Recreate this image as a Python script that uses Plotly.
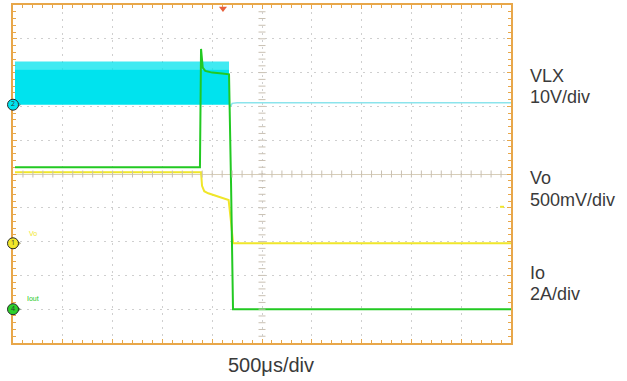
import numpy as np
import plotly.graph_objects as go

# ---- time base: 500 us/div, 10 divisions -> 0..5 ms ----
T_RANGE = [0.0, 5.0]

# ---- VLX (10 V/div), switching band then off ----
vlx_scale, vlx_offset = 10.0, 2.05
vlx_band_t = [0.02, 2.169]          # switching interval (ms)
vlx_band_low = 0.0                  # V
vlx_band_dense = 10.5               # V (solid part of band)
vlx_band_high = 12.8                # V (ragged top of band)
vlx_after_t = [2.169, 2.189, 2.20, 2.25, 5.0]
vlx_after_v = [0.0, -0.3, 0.4, 0.6, 0.6]

# ---- Vo (500 mV/div) ----
vo_scale, vo_offset = 0.5, -2.05
vo_t = [0.02, 1.888, 1.898, 1.92, 1.96, 2.05, 2.165, 2.19, 2.21, 5.0]
vo_v = [1.05, 1.05, 0.85, 0.77, 0.74, 0.70, 0.64, 0.30, 0.0, 0.0]
vo_marker_t = [4.89, 4.93]
vo_marker_v = [0.54, 0.54]

# ---- Io (2 A/div) ----
io_scale, io_offset = 2.0, -4.0
io_t = [0.02, 1.877, 1.888, 1.905, 1.93, 2.0, 2.1, 2.169, 2.189, 2.209, 5.0]
io_a = [8.4, 8.4, 15.4, 14.3, 14.1, 14.0, 13.95, 13.9, 7.5, 0.0, 0.0]

trigger_t = 2.108

right_labels = ["VLX", "10V/div", "Vo", "500mV/div", "Io", "2A/div"]
time_label = "500μs/div"

CYAN = "#00E3EE"
CYAN_L = "rgba(0,227,238,0.75)"
CYAN_LINE = "#8BE4EC"
GREEN = "#22C922"
YELLOW = "#F0E62A"
FRAME = "#E8A74A"
GRID = "#cfcfcf"


def to_div(vals, scale, offset):
    return [v / scale + offset for v in vals]


fig = go.Figure()

# VLX band: solid lower part + lighter ragged top
t0, t1 = vlx_band_t
lo, mid, hi = to_div([vlx_band_low, vlx_band_dense, vlx_band_high], vlx_scale, vlx_offset)
fig.add_trace(go.Scatter(x=[t0, t1, t1, t0, t0], y=[lo, lo, mid, mid, lo], fill="toself",
                         fillcolor=CYAN, line=dict(width=0), mode="lines", hoverinfo="skip"))
fig.add_trace(go.Scatter(x=[t0, t1, t1, t0, t0], y=[mid, mid, hi, hi, mid], fill="toself",
                         fillcolor=CYAN_L, line=dict(width=0), mode="lines", hoverinfo="skip"))
fig.add_trace(go.Scatter(x=vlx_after_t, y=to_div(vlx_after_v, vlx_scale, vlx_offset),
                         mode="lines", line=dict(color=CYAN_LINE, width=1.5)))

# Vo
fig.add_trace(go.Scatter(x=vo_t, y=to_div(vo_v, vo_scale, vo_offset), mode="lines",
                         line=dict(color=YELLOW, width=2)))
fig.add_trace(go.Scatter(x=vo_marker_t, y=to_div(vo_marker_v, vo_scale, vo_offset), mode="lines",
                         line=dict(color=YELLOW, width=2)))

# Io
fig.add_trace(go.Scatter(x=io_t, y=to_div(io_a, io_scale, io_offset), mode="lines",
                         line=dict(color=GREEN, width=2)))

# centre crosshair tick marks
hx = np.arange(0.1, 5.0, 0.1)
fig.add_trace(go.Scatter(x=hx, y=np.zeros_like(hx), mode="markers",
                         marker=dict(symbol="line-ns", size=5, line=dict(color="#c9c0b2", width=1)),
                         hoverinfo="skip"))
vy = np.arange(-4.8, 5.0, 0.2)
fig.add_trace(go.Scatter(x=np.full_like(vy, 2.5), y=vy, mode="markers",
                         marker=dict(symbol="line-ew", size=5, line=dict(color="#c9c0b2", width=1)),
                         hoverinfo="skip"))

# channel ground markers at left edge
ch_y = [vlx_offset, vo_offset, io_offset]
ch_fill = [CYAN, YELLOW, "#2BD12B"]
ch_txt = ["2", "1", "4"]
fig.add_trace(go.Scatter(x=[0.045] * 3, y=ch_y, mode="markers", cliponaxis=False,
                         marker=dict(symbol="triangle-right", size=6, color=ch_fill,
                                     line=dict(color="#555", width=0.5)), hoverinfo="skip"))
fig.add_trace(go.Scatter(x=[0.0] * 3, y=ch_y, mode="markers+text", cliponaxis=False,
                         text=ch_txt, textposition="middle center",
                         textfont=dict(size=7, color="#333"),
                         marker=dict(symbol="circle", size=11, color=ch_fill,
                                     line=dict(color="#2a2a2a", width=1)), hoverinfo="skip"))

# trigger marker
fig.add_trace(go.Scatter(x=[trigger_t], y=[4.9], mode="markers", cliponaxis=False,
                         marker=dict(symbol="triangle-down", size=7, color="#E8603C"),
                         hoverinfo="skip"))

# small channel tags
fig.add_annotation(x=0.2, y=vo_offset + 0.28, xref="x", yref="y", text="Vo", showarrow=False,
                   font=dict(size=7, color=YELLOW, family="Liberation Sans"))
fig.add_annotation(x=0.2, y=io_offset + 0.33, xref="x", yref="y", text="Iout", showarrow=False,
                   font=dict(size=7, color=GREEN, family="Liberation Sans"))

# right-hand labels
label_py = [74, 96, 177, 199, 272.5, 293.5]
for txt, py in zip(right_labels, label_py):
    fig.add_annotation(x=(528 - 13) / 498, y=(343 - py) / 340, xref="paper", yref="paper",
                       text=txt, showarrow=False, xanchor="left", yanchor="middle",
                       font=dict(size=18, color="#3a3a3a", family="Liberation Sans"))

fig.add_annotation(x=(271 - 13) / 498, y=(343 - 365.5) / 340, xref="paper", yref="paper",
                   text=time_label, showarrow=False, xanchor="center", yanchor="middle",
                   font=dict(size=20, color="#3a3a3a", family="Liberation Sans"))

axis_common = dict(showline=True, linecolor=FRAME, linewidth=2, mirror="ticks",
                   ticks="inside", ticklen=4, tickcolor=FRAME, tickwidth=1,
                   showticklabels=False, showgrid=True, gridcolor=GRID, gridwidth=1,
                   griddash="2px,5px", fixedrange=True, layer="below traces")

fig.update_xaxes(range=T_RANGE, dtick=0.5, tick0=0, zeroline=False,
                 minor=dict(dtick=0.1, ticks="inside", ticklen=3, tickcolor=FRAME, showgrid=False),
                 **axis_common)
fig.update_yaxes(range=[-5, 5], dtick=1, tick0=0, zeroline=True, zerolinecolor="#d8ceb8",
                 zerolinewidth=1,
                 minor=dict(dtick=0.2, ticks="inside", ticklen=3, tickcolor=FRAME, showgrid=False),
                 **axis_common)

fig.update_layout(width=627, height=381, margin=dict(l=13, r=116, t=3, b=38),
                  paper_bgcolor="white", plot_bgcolor="white", showlegend=False)

fig.write_html("out.html", config={"displayModeBar": False},
               post_script="document.body.style.margin='0';document.body.style.padding='0';")
